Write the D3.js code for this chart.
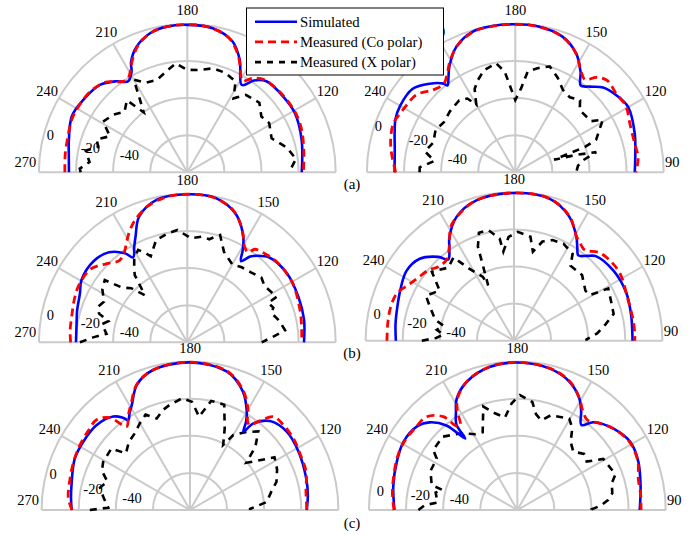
<!DOCTYPE html>
<html>
<head>
<meta charset="utf-8">
<script src="https://cdn.jsdelivr.net/npm/d3@7"></script>
<style>
  body { margin: 0; background: #fff; }
</style>
</head>
<body>
<svg id="chart" width="699" height="535" font-family="'Liberation Serif', 'Times New Roman', serif"></svg>
<script>
// pattern values: [angle (deg), level (dB)]
var simA1 = [[270,-16.2],[262,-15.5],[255,-13.9],[244,-10.8],[235,-11.7],[225,-13.4],[218,-17.7],[213,-21.5],[209,-18],[207,-13.2],[202,-7],[195,-2.4],[188,-0.7],[180,-0.5],[170,-1.1],[161,-5.3],[155,-13.1],[148,-24.5],[144,-18.8],[139,-15],[128,-14.1],[119,-13.8],[106,-15.9],[90,-18.3]];
var coA1 = [[270,-14],[262,-13.5],[255,-13],[245,-11.5],[238,-11.5],[230,-12],[222,-14.5],[217,-19],[213,-20.5],[209,-17],[206,-12.5],[201,-6.5],[194,-2],[186,-0.6],[180,-0.4],[172,-0.8],[163,-4],[157,-10.5],[153,-17],[149,-22.5],[145,-18],[140,-15],[132,-14],[124,-13.5],[117,-13.5],[110,-14.3],[100,-16.2],[90,-17.4]];
var xA1 = [[270,-22.5],[268,-22],[264,-27],[258,-24],[254,-30],[250,-28],[245,-34],[239,-27],[232,-29.5],[226,-33],[220,-29.3],[216,-40],[213,-33],[210,-22.3],[205,-26.8],[198,-27.5],[192,-24.6],[186,-21],[180,-24.8],[173,-24.4],[166,-22.2],[159,-22.6],[152,-24.6],[148,-33],[143,-27.7],[134,-26],[127,-30],[121,-28.5],[112,-31],[104,-24.7],[97,-21],[91,-24.6],[90,-25]];

var simA2 = [[270,-14.9],[259,-13.8],[252,-11.6],[246,-9.3],[240,-8.3],[231,-8.6],[224,-13.6],[219,-18.5],[218,-20.6],[215,-17.2],[212,-12.9],[205,-5.1],[197,-0.8],[189,-0.2],[180,-0.2],[171,-0.4],[161,-2.5],[153,-7.9],[147,-15.4],[143,-21.4],[139,-18.8],[134,-14.2],[127,-11.4],[120,-9.7],[108,-12.3],[99,-14.5],[90,-15.6]];
var coA2 = [[270,-15.5],[260,-12],[254,-10.2],[248,-9.2],[241,-10.7],[232,-12.2],[225,-17.2],[219,-18.7],[214,-14.7],[210,-10],[204,-4.5],[196,-0.8],[188,-0.3],[180,-0.2],[171,-0.5],[161,-2.6],[153,-8],[147,-15],[143,-17.5],[139.5,-12.7],[135,-10],[128,-11],[121,-10.5],[113,-12.9],[104,-13.8],[97,-13.3],[91,-14.7],[90,-15]];
var xA2 = [[270,-28.4],[267,-28.4],[262,-36],[257,-30],[250,-33],[242,-31.3],[235,-33],[227,-31.8],[218,-30.8],[213,-32.6],[210,-38],[206,-30],[202,-26.3],[197,-22.4],[190,-20.3],[186,-25.4],[183,-34.7],[180,-41],[176,-34.5],[173,-25.3],[168,-22.6],[162,-20],[156,-24],[150,-28.7],[144,-30],[138,-27.8],[134,-31.7],[124,-30.7],[121,-25],[115,-30.7],[112,-33],[110,-40],[108,-58],[106,-46],[104,-35],[100,-43],[96,-46],[91,-47],[90,-48]];

var simB1 = [[270,-20],[260,-19.4],[254,-18.2],[245.5,-16.4],[239.5,-13.8],[229,-13.2],[221,-15.7],[215,-21.4],[212.5,-25.7],[209,-21],[206,-16.4],[201,-7.5],[192,-1.4],[180,-0.2],[169,-0.7],[159,-6.3],[152,-15.7],[149,-22],[146.5,-27.5],[144,-23],[142.6,-21.4],[136,-16.4],[125,-14.7],[112,-15.3],[101,-15.9],[90,-17.1]];
var coB1 = [[270,-17.1],[264,-16.5],[257,-16.1],[250,-15],[243,-14],[233,-14.6],[226,-19.1],[220,-22.7],[216,-21.5],[214,-19.9],[208,-13.1],[203,-8.2],[196,-3.5],[188,-0.8],[180,-0.2],[170,-0.6],[161,-4.5],[154,-12.5],[149,-20],[146,-21.5],[144,-18],[139,-16.5],[132,-15.1],[124,-14.8],[118,-15],[106,-16.8],[98,-17.8],[90,-18.3]];
var xB1 = [[270,-22.1],[267,-29.2],[264,-36.2],[258,-33],[255,-35.9],[252,-30],[248,-28.3],[244,-30],[238,-26],[233,-24.3],[230,-34.1],[226,-38],[222,-45.8],[218,-34],[216,-31.3],[212,-26],[208,-23.6],[205,-27],[203,-29.6],[197,-22.4],[190,-20.3],[185,-19.2],[178,-23.9],[172,-22.5],[168,-23.2],[163,-19.5],[158,-27.3],[150,-31.5],[144,-30],[138,-29.1],[131,-27],[126,-28.5],[117,-25.9],[116,-31.5],[112,-30],[109,-31.9],[103,-29],[97,-26.9],[94,-33],[90,-39.9]];

var simB2 = [[270,-16.3],[262,-15.5],[255,-14.7],[246,-12.9],[237,-10.9],[229,-12.7],[222,-19.2],[219,-23.7],[215,-19.2],[212,-14.3],[205,-6.5],[195,-1.7],[180,-0.4],[166,-1.1],[156,-6.8],[149,-14.7],[146,-19],[143,-22.4],[139.4,-19.8],[136,-16.6],[125,-14.4],[113,-14.2],[102,-15.4],[90,-16.1]];
var coB2 = [[270,-11.5],[262,-11.3],[255,-11.1],[248,-11.9],[242,-15.7],[236.5,-18.2],[230.5,-20.2],[225.6,-23],[219.6,-23.2],[215,-19],[212,-14.5],[209,-9.7],[204,-6],[195,-1.6],[180,-0.3],[166,-1],[156,-6.5],[149,-14.5],[145,-17],[142,-18],[136,-14],[130,-12.6],[122,-12.4],[110,-14.7],[100,-14.8],[93.5,-14.8],[90,-14.9]];
var xB2 = [[270,-30.3],[268,-38],[265,-41.8],[262,-38],[258,-41.1],[255,-36],[248,-31.1],[243,-26.7],[236,-31.6],[230,-22.2],[222,-27],[216,-24.5],[212,-34],[206,-41.8],[205,-47],[201,-25.7],[198,-18.8],[193,-18.8],[188,-24.4],[186.8,-31.6],[183,-24],[178,-21.3],[171,-23.3],[168,-31],[164,-24.4],[159,-21.9],[153,-21.3],[146,-23.5],[143,-29.4],[134,-29],[125,-33],[121,-32.3],[119,-21.9],[111,-23.7],[105,-24.4],[100,-30],[95,-35],[91,-40.9],[90,-41]];

var simC1 = [[270,-16.2],[264,-15.5],[258,-14.7],[246,-12],[237,-11.7],[228,-11.9],[219.4,-14.8],[216,-18.5],[214.4,-21.2],[212,-18.5],[209,-15.3],[203,-6.7],[195,-2],[180,-0.4],[165,-2.8],[156,-10],[150,-18.8],[147.6,-23.6],[145.7,-28.9],[143.8,-22.1],[138,-15.5],[129,-12.9],[118,-13.6],[105,-15.1],[97,-16],[90,-17.1]];
var coC1 = [[270,-16.5],[264.5,-14.1],[254.8,-13.1],[247,-12],[239.4,-11.1],[232,-10.5],[226,-10],[221,-14],[217.2,-23.5],[213,-19],[209,-14.5],[203,-6.5],[195,-2],[180,-0.3],[165,-2.5],[156,-9.5],[150,-17.5],[147,-23],[145,-24],[142,-19],[138.2,-12.5],[132.3,-11.9],[124.7,-12.2],[116,-13.5],[108.3,-14.1],[99,-16.7],[90,-17]];
var xC1 = [[270,-26],[268.4,-35.9],[262,-33],[256,-30],[251,-32.9],[246,-28],[241,-26.5],[232,-26.2],[228.5,-33.9],[222,-30.7],[216,-29.1],[210,-26],[205,-23.3],[200,-27.5],[195,-24.1],[191,-22.3],[184,-19.6],[179,-21.6],[176,-27],[174.5,-29.5],[169,-20.1],[162,-20.3],[157,-32.1],[153,-40.6],[150,-33.3],[144,-28],[139,-23.9],[134,-31],[130,-40.4],[126,-34.7],[122,-26.3],[115,-28.2],[108,-31],[103,-34.9],[96,-38.4],[91,-47.6],[90,-47.6]];

var simC2 = [[270,-13.8],[259,-11.9],[248,-10],[239,-8.5],[230,-9.7],[225,-13.2],[220,-20.5],[216.1,-32.3],[215.5,-23.5],[212,-17.6],[208.5,-11.6],[201.5,-5.7],[191,-1.5],[180,-0.5],[167,-1.8],[158,-5.3],[151,-11.1],[147,-16.8],[143,-22.6],[139,-17.3],[130,-12],[121,-8.9],[112,-9.7],[101.5,-12.2],[90,-14]];
var coC2 = [[270,-13.5],[262,-12],[254,-10.8],[246,-9.3],[239,-8.8],[231,-9.4],[224.2,-9.9],[218.4,-15.8],[216,-24],[214,-25],[211,-17],[208,-11.5],[201,-5.3],[191,-1.3],[180,-0.4],[167,-1.6],[158,-5],[151,-11],[146.5,-16],[142.1,-18.5],[136.4,-15.5],[130,-12],[121,-9.2],[112,-9.9],[104.7,-12.6],[97,-13],[90,-13.3]];
var xC2 = [[270,-26.7],[267,-30],[264.6,-36.8],[258,-35],[255,-38.2],[253.7,-31.9],[245.8,-28.7],[237.4,-28.4],[234.5,-24.3],[225.5,-23.6],[216,-28.9],[209.2,-33.2],[204,-34.1],[198.2,-21.3],[193,-26.5],[187.6,-29.7],[183,-22.4],[178.7,-18],[172.1,-21.2],[169,-27.3],[165,-30],[160.5,-25.8],[150.4,-23.3],[146,-27],[142,-33.3],[136.2,-36.4],[130,-33],[124.9,-34.4],[120.7,-26.1],[110,-23.7],[105.8,-27.1],[100,-28],[96.3,-30.8],[93,-35],[90.5,-40],[90,-40]];

var angleTicks = [120, 150, 180, 210, 240];
var levelTicks = [0, -20, -40];
var seriesNames = ["Simulated", "Measured (Co polar)", "Measured (X polar)"];
var panelTags = ["(a)", "(b)", "(c)"];

var panels = [
  {cx: 187.3, cy: 172.3, sim: simA1, co: coA1, x: xA1, side: "left",  ldy: [-37, -24, -17]},
  {cx: 515.3, cy: 172.3, sim: simA2, co: coA2, x: xA2, side: "right", ldy: [-46, -32, -13]},
  {cx: 187.3, cy: 342.3, sim: simB1, co: coB1, x: xB1, side: "left",  ldy: [-27, -19, -10]},
  {cx: 514,   cy: 340.7, sim: simB2, co: coB2, x: xB2, side: "right", ldy: [-27, -18, -9]},
  {cx: 190,   cy: 510,   sim: simC1, co: coC1, x: xC1, side: "left",  ldy: [-36, -21, -12]},
  {cx: 517.3, cy: 510,   sim: simC2, co: coC2, x: xC2, side: "right", ldy: [-19, -15, -11]}
];

var R = 148.4;
var svg = d3.select("#chart");
svg.append("rect").attr("width", 699).attr("height", 535).attr("fill", "#fff");

var rScale = d3.scaleLinear().domain([-80, 0]).range([0, R]);
var aScale = d3.scaleLinear().domain([90, 270]).range([Math.PI / 2, -Math.PI / 2]);

var smooth = d3.lineRadial()
  .angle(function(d) { return aScale(d[0]); })
  .radius(function(d) { return rScale(d[1]); })
  .curve(d3.curveCatmullRom.alpha(0.5));
var rough = d3.lineRadial()
  .angle(function(d) { return aScale(d[0]); })
  .radius(function(d) { return rScale(d[1]); });

var gridColor = "#cacaca";
var labelDx = [-137, -97, -58];

panels.forEach(function(p) {
  var g = svg.append("g").attr("transform", "translate(" + p.cx + "," + p.cy + ")");

  // rings
  g.selectAll(".ring")
    .data(rScale.ticks(4).filter(function(v) { return v > -80; }))
    .enter()
    .append("path")
    .attr("class", "ring")
    .attr("d", function(v) {
      var pth = d3.path();
      pth.moveTo(-rScale(v), 0);
      pth.arc(0, 0, rScale(v), Math.PI, 2 * Math.PI);
      return pth.toString();
    })
    .attr("fill", "none")
    .attr("stroke", gridColor)
    .attr("stroke-width", 2);

  // spokes
  g.selectAll(".spoke")
    .data(d3.range(90, 271, 30))
    .enter()
    .append("line")
    .attr("class", "spoke")
    .attr("x2", function(t) { return R * Math.sin(aScale(t)); })
    .attr("y2", function(t) { return -R * Math.cos(aScale(t)); })
    .attr("stroke", gridColor)
    .attr("stroke-width", 2);

  // angle labels
  g.selectAll(".alab")
    .data(angleTicks)
    .enter()
    .append("text")
    .attr("class", "alab")
    .attr("x", function(t) { return 162 * Math.sin(aScale(t)); })
    .attr("y", function(t) { return -162 * Math.cos(aScale(t)); })
    .attr("dy", "0.35em")
    .attr("text-anchor", "middle")
    .attr("font-size", 14.5)
    .text(function(t) { return t; });

  g.append("text")
    .attr("x", p.side == "left" ? -162 : 157)
    .attr("y", -10)
    .attr("dy", "0.35em")
    .attr("text-anchor", "middle")
    .attr("font-size", 14.5)
    .text(p.side == "left" ? 270 : 90);

  // level labels
  g.selectAll(".rlab")
    .data(levelTicks)
    .enter()
    .append("text")
    .attr("class", "rlab")
    .attr("x", function(d, i) { return labelDx[i]; })
    .attr("y", function(d, i) { return p.ldy[i]; })
    .attr("dy", "0.35em")
    .attr("text-anchor", "middle")
    .attr("font-size", 14.5)
    .text(function(d) { return d; });

  g.append("path")
    .attr("d", rough(p.x))
    .attr("fill", "none")
    .attr("stroke", "#000")
    .attr("stroke-width", 2.6)
    .attr("stroke-dasharray", "7,6");

  g.append("path")
    .attr("d", smooth(p.sim))
    .attr("fill", "none")
    .attr("stroke", "#0000ff")
    .attr("stroke-width", 2.6);

  g.append("path")
    .attr("d", smooth(p.co))
    .attr("fill", "none")
    .attr("stroke", "#ff0000")
    .attr("stroke-width", 2.8)
    .attr("stroke-dasharray", "8,5");
});

// row tags
svg.selectAll(".tag")
  .data(panelTags)
  .enter()
  .append("text")
  .attr("class", "tag")
  .attr("x", 352)
  .attr("y", function(d, i) { return [184, 353, 523][i]; })
  .attr("dy", "0.35em")
  .attr("text-anchor", "middle")
  .attr("font-size", 15)
  .text(function(d) { return d; });

// legend
var leg = svg.append("g");
leg.append("rect")
  .attr("x", 246.5).attr("y", 8)
  .attr("width", 197).attr("height", 67)
  .attr("fill", "#fff")
  .attr("stroke", "#000")
  .attr("stroke-width", 1);

var legStyles = [
  {color: "#0000ff", dash: null, w: 2.6},
  {color: "#ff0000", dash: "8,5", w: 2.8},
  {color: "#000", dash: "6,6", w: 2.6}
];

leg.selectAll(".legLine")
  .data(seriesNames)
  .enter()
  .append("line")
  .attr("class", "legLine")
  .attr("x1", 255).attr("x2", 297)
  .attr("y1", function(d, i) { return 21.7 + 20.2 * i; })
  .attr("y2", function(d, i) { return 21.7 + 20.2 * i; })
  .attr("stroke", function(d, i) { return legStyles[i].color; })
  .attr("stroke-width", function(d, i) { return legStyles[i].w; })
  .attr("stroke-dasharray", function(d, i) { return legStyles[i].dash; });

leg.selectAll(".legText")
  .data(seriesNames)
  .enter()
  .append("text")
  .attr("class", "legText")
  .attr("x", 300)
  .attr("y", function(d, i) { return 21.7 + 20.2 * i; })
  .attr("dy", "0.35em")
  .attr("font-size", 14.7)
  .text(function(d) { return d; });
</script>
</body>
</html>
